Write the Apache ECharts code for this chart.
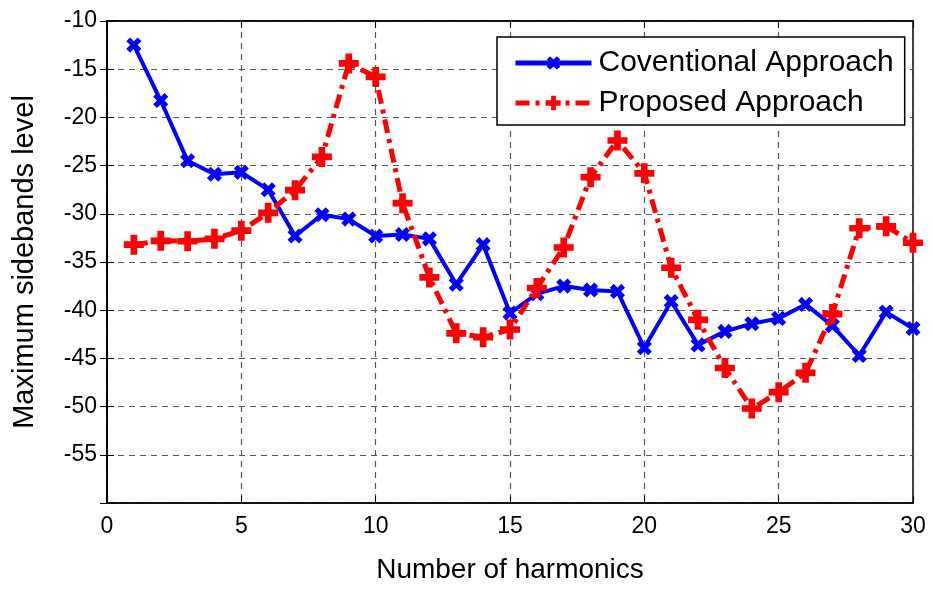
<!DOCTYPE html>
<html>
<head>
<meta charset="utf-8">
<script src="https://cdn.jsdelivr.net/npm/echarts@6/dist/echarts.min.js"></script>
<style>html,body{margin:0;padding:0;background:#fff;}#c{width:933px;height:589px;}</style>
</head>
<body>
<div id="c"></div>
<script>
var harmonics = [1,2,3,4,5,6,7,8,9,10,11,12,13,14,15,16,17,18,19,20,21,22,23,24,25,26,27,28,29,30];
var conventional = [-12.5,-18.25,-24.5,-25.9,-25.7,-27.5,-32.3,-30.1,-30.55,-32.3,-32.15,-32.6,-37.3,-33.2,-40.3,-38.3,-37.5,-37.9,-38.05,-43.9,-39.1,-43.6,-42.2,-41.4,-40.85,-39.4,-41.6,-44.7,-40.2,-41.9];
var proposed = [-33.2,-32.8,-32.85,-32.6,-31.75,-29.9,-27.55,-24.1,-14.4,-15.8,-28.9,-36.6,-42.4,-42.8,-42.0,-37.7,-33.5,-26.2,-22.4,-25.8,-35.6,-41.0,-46.0,-50.2,-48.5,-46.5,-40.4,-31.5,-31.3,-33.0];
var xTicks = [0,5,10,15,20,25,30];
var yTicks = [-55,-50,-45,-40,-35,-30,-25,-20,-15,-10];

function pairs(xs, ys){ return xs.map(function(x,i){ return [x, ys[i]]; }); }

var plusPath = 'path://M-3,-1 L-1,-1 L-1,-3 L1,-3 L1,-1 L3,-1 L3,1 L1,1 L1,3 L-1,3 L-1,1 L-3,1 Z';
var FONT = 'Liberation Sans, Arial, sans-serif';
var gridLine = {show:true, lineStyle:{color:'#555', type:[6,5], width:1.2}};

var chart = echarts.init(document.getElementById('c'), null, {renderer:'canvas'});
chart.setOption({
  animation:false,
  backgroundColor:'#fff',
  grid:{left:107, right:20, top:21, bottom:79, show:true, borderColor:'#000', borderWidth:1.5, containLabel:false},
  legend:{
    show:true, orient:'vertical', left:497, top:37,
    backgroundColor:'#fff', borderColor:'#000', borderWidth:1.5,
    padding:[11,11,7,16], itemGap:10, itemWidth:76, itemHeight:18,
    textStyle:{fontFamily:FONT, fontSize:30, color:'#000', padding:[0,0,0,2]},
    data:[
      {name:'Coventional Approach', lineStyle:{width:5}},
      {name:'Proposed Approach', lineStyle:{width:5}}
    ]
  },
  xAxis:[{
    type:'value', min:0, max:30, interval:5, position:'bottom',
    name:'Number of harmonics', nameLocation:'middle', nameGap:53,
    nameTextStyle:{fontFamily:FONT, fontSize:28, color:'#000'},
    axisLine:{show:true, lineStyle:{color:'#000', width:1.5}},
    axisTick:{show:true, inside:true, length:7, lineStyle:{color:'#000'}},
    axisLabel:{fontFamily:FONT, fontSize:23, color:'#000', margin:12},
    splitLine:gridLine
  },{
    type:'value', min:0, max:30, interval:5, position:'top',
    axisLine:{show:true, lineStyle:{color:'#000', width:1.5}},
    axisTick:{show:true, inside:true, length:7, lineStyle:{color:'#000'}},
    axisLabel:{show:false}, splitLine:{show:false}
  }],
  yAxis:[{
    type:'value', min:-60, max:-10, interval:5, position:'left',
    name:'Maximum sidebands level', nameLocation:'middle', nameGap:68,
    nameTextStyle:{fontFamily:FONT, fontSize:29, color:'#000'},
    axisLine:{show:true, lineStyle:{color:'#000', width:1.5}},
    axisTick:{show:true, inside:true, length:7, lineStyle:{color:'#000'}},
    axisLabel:{fontFamily:FONT, fontSize:23, color:'#000', margin:10,
      formatter:function(v){ return yTicks.indexOf(v) >= 0 ? String(v) : ''; }},
    splitLine:gridLine
  },{
    type:'value', min:-60, max:-10, interval:5, position:'right',
    axisLine:{show:true, lineStyle:{color:'#000', width:1.5}},
    axisTick:{show:true, inside:true, length:7, lineStyle:{color:'#000'}},
    axisLabel:{show:false}, splitLine:{show:false}
  }],
  series:[{
    name:'Coventional Approach', type:'line', data:pairs(harmonics, conventional),
    symbol:plusPath, symbolSize:16, symbolRotate:45, showAllSymbol:true,
    lineStyle:{color:'#0000ff', width:4},
    itemStyle:{color:'#0000ff'}, z:2
  },{
    name:'Proposed Approach', type:'line', data:pairs(harmonics, proposed),
    symbol:plusPath, symbolSize:20, showAllSymbol:true,
    lineStyle:{color:'#ff0000', width:5, type:[14,6,4,6]},
    itemStyle:{color:'#ff0000'}, z:3
  }]
});
</script>
</body>
</html>
